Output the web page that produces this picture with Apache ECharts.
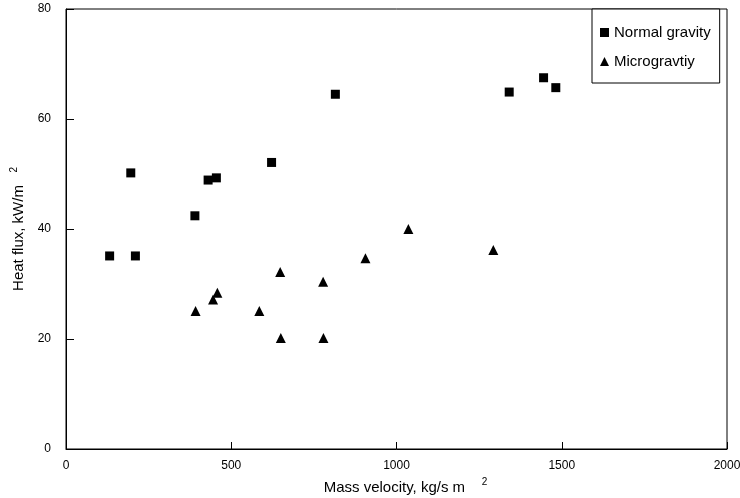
<!DOCTYPE html>
<html>
<head>
    <meta charset="utf-8">
    <title>Heat flux vs mass velocity</title>
    <script type="text/javascript" src="https://cdn.jsdelivr.net/npm/echarts@6/dist/echarts.min.js"></script>
    <style>
        html, body { margin: 0; padding: 0; background: #fff; }
    </style>
</head>
<body>
<div id="main" style="width: 740px;height:498px;"></div>
<script type="text/javascript">
    // data
    var normalX = [132, 196, 210, 390, 430, 455, 622, 815, 1341, 1445, 1482];
    var normalY = [35.1, 50.2, 35.1, 42.4, 48.9, 49.3, 52.1, 64.5, 64.9, 67.5, 65.7];
    var microX = [392, 445, 458, 585, 648, 650, 778, 779, 906, 1036, 1293];
    var microY = [25.1, 27.2, 28.4, 25.1, 32.2, 20.2, 30.4, 20.2, 34.7, 40.0, 36.2];

    function pairs(xs, ys) {
        var out = [];
        for (var i = 0; i < xs.length; i++) out.push([xs[i], ys[i]]);
        return out;
    }

    var font = 'Liberation Sans, Arial, sans-serif';
    var myChart = echarts.init(document.getElementById('main'));

    var option = {
        backgroundColor: '#fff',
        animation: false,
        grid: {
            left: 66, right: 13, top: 9, bottom: 49,
            outerBoundsMode: 'none',
            containLabel: false,
            show: true, borderColor: '#000', borderWidth: 1
        },
        legend: {
            orient: 'vertical',
            left: 592, top: 9,
            padding: [16, 9, 14, 8],
            itemGap: 14,
            itemWidth: 9, itemHeight: 9,
            borderColor: '#000', borderWidth: 1,
            backgroundColor: '#fff',
            textStyle: { fontFamily: font, fontSize: 15, color: '#000' },
            data: [
                { name: 'Normal gravity', icon: 'rect' },
                { name: 'Microgravtiy', icon: 'triangle' }
            ]
        },
        xAxis: {
            type: 'value',
            min: 0, max: 2000, interval: 500,
            name: 'Mass velocity, kg/s m    {s|2}',
            nameLocation: 'middle',
            nameGap: 27,
            nameTextStyle: {
                fontFamily: font, fontSize: 15, color: '#000',
                padding: [0, 0, 0, 18],
                rich: { s: { fontFamily: font, fontSize: 10, color: '#000', padding: [0, 0, 11, 0] } }
            },
            axisLine: { onZero: false, lineStyle: { color: '#000', width: 1 } },
            axisTick: { inside: true, length: 7, lineStyle: { color: '#000' } },
            axisLabel: {
                fontFamily: font, fontSize: 12, color: '#000', margin: 11,
                formatter: function (v) { return String(v); }
            },
            splitLine: { show: false }
        },
        yAxis: {
            type: 'value',
            min: 0, max: 80, interval: 20,
            name: 'Heat flux, kW/m   {s|2}',
            nameLocation: 'middle',
            nameGap: 31,
            nameRotate: 90,
            nameTextStyle: {
                fontFamily: font, fontSize: 15, color: '#000',
                rich: { s: { fontFamily: font, fontSize: 10, color: '#000', padding: [0, 0, 11, 0] } }
            },
            axisLine: { onZero: false, lineStyle: { color: '#000', width: 1 } },
            axisTick: { inside: true, length: 8, lineStyle: { color: '#000' } },
            axisLabel: { fontFamily: font, fontSize: 12, color: '#000', margin: 15 },
            splitLine: { show: false }
        },
        series: [
            {
                name: 'Normal gravity',
                type: 'scatter',
                symbol: 'rect',
                symbolSize: 9,
                itemStyle: { color: '#000', opacity: 1 },
                data: pairs(normalX, normalY)
            },
            {
                name: 'Microgravtiy',
                type: 'scatter',
                symbol: 'triangle',
                symbolSize: 10,
                itemStyle: { color: '#000', opacity: 1 },
                data: pairs(microX, microY)
            }
        ]
    };

    myChart.setOption(option);
</script>
</body>
</html>
